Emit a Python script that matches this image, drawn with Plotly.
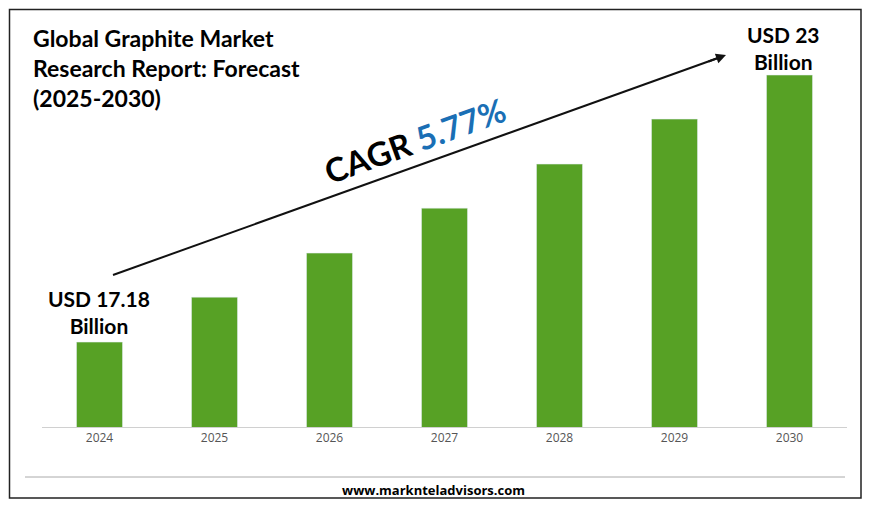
import plotly.graph_objects as go

years = ["2024", "2025", "2026", "2027", "2028", "2029", "2030"]
values = [17.18, 18.16, 19.12, 20.10, 21.06, 22.04, 23.0]
start_label = "USD 17.18<br>Billion"
end_label = "USD 23<br>Billion"

OFF = 8
L, R, T, B = 42 - OFF, 23 + OFF, 20 - OFF, 79 + OFF
W, H = 870, 506
pw, ph = W - L - R, H - T - B
def px(x): return (x - OFF - L) / pw
def py(y): return (H - B - (y - OFF)) / ph

fig = go.Figure(go.Bar(x=years, y=values, marker_color="#57a125", width=0.4))
fig.update_layout(
    width=W, height=H, margin=dict(l=L, r=R, t=T, b=B),
    paper_bgcolor="white", plot_bgcolor="white", showlegend=False,
    font=dict(family="Lato", color="#000"),
    xaxis=dict(showline=True, linecolor="#d0d0d0", linewidth=1, ticks="",
               tickfont=dict(size=12, color="#555", family="Open Sans")),
    yaxis=dict(range=[15.33, 24.2], visible=False),
)
shapes = [
    dict(type="rect", xref="paper", yref="paper", x0=px(9.5), x1=px(861), y0=py(498), y1=py(9.5),
         line=dict(color="#222", width=1.5)),
    dict(type="line", xref="paper", yref="paper", x0=px(25), x1=px(845), y0=py(477), y1=py(477),
         line=dict(color="#aaa", width=1)),
    dict(type="line", xref="paper", yref="paper", x0=px(113), y0=py(275), x1=px(718), y1=py(58),
         line=dict(color="#111", width=2)),
]
fig.update_layout(shapes=shapes)
ann = [
    dict(xref="paper", yref="paper", x=px(31), y=py(22), xanchor="left", yanchor="top", align="left",
         text="<b>Global Graphite Market<br>Research Report: Forecast<br>(2025-2030)</b>",
         showarrow=False, font=dict(size=23, family="Lato")),
    dict(xref="paper", yref="paper", x=px(726), y=py(55), ax=-19, ay=7,
         showarrow=True, arrowhead=2, arrowsize=1, arrowwidth=2, arrowcolor="#111", text=""),
    dict(xref="paper", yref="paper", x=px(415), y=py(140), xanchor="center", yanchor="middle",
         textangle=-19.8, showarrow=False,
         text="<b>CAGR <span style='color:#1a6fb5'>5.77%</span></b>", font=dict(size=33, family="Lato")),
    dict(xref="paper", yref="paper", x=px(99), y=py(312), xanchor="center", yanchor="middle", showarrow=False,
         text="<b>" + start_label + "</b>", font=dict(size=21, family="Lato")),
    dict(xref="paper", yref="paper", x=px(783), y=py(48), xanchor="center", yanchor="middle", showarrow=False,
         text="<b>" + end_label + "</b>", font=dict(size=21, family="Lato")),
    dict(xref="paper", yref="paper", x=px(433), y=py(490), xanchor="center", yanchor="middle", showarrow=False,
         text="<b>www.marknteladvisors.com</b>", font=dict(size=13, family="Open Sans")),
]
fig.update_layout(annotations=ann)
fig.write_html("out.html")
